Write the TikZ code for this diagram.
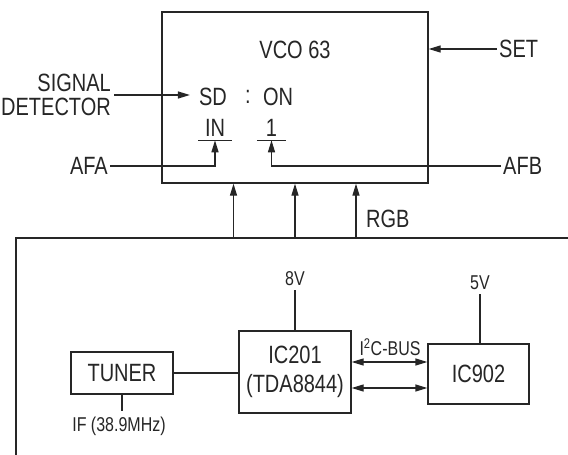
\documentclass[tikz,border=0pt]{standalone}
\usepackage{fontspec}
\setmainfont{Liberation Sans}[FakeStretch=0.8]
\usepackage{tikz}
\usetikzlibrary{positioning,arrows.meta,calc}
\tikzset{
  tvblk/.style={draw=black!85, line width=1.3pt, inner sep=0pt, text=black!85, font=\tvBig},
  tvtxt/.style={inner sep=0pt, text=black!85, font=\tvBig},
  tvsmall/.style={inner sep=0pt, text=black!85, font=\tvSmall},
  tvbar/.style={tvtxt, inner ysep=3.5pt},
  tvwire/.style={draw=black!85, line width=1.3pt},
  tvsig/.style={tvwire, -{Triangle[length=12pt,width=7pt]}},
  tvbus/.style={tvwire, {Triangle[length=12pt,width=7pt]}-{Triangle[length=12pt,width=7pt]}},
}
\newcommand{\tvBig}{\fontsize{25}{29}\selectfont}
\newcommand{\tvSmall}{\fontsize{20}{23}\selectfont}

\begin{document}
\begin{tikzpicture}[x=1pt, y=-1pt]
  \useasboundingbox (0,0) rectangle (568,455);
  \node[tvblk, minimum width=266pt, minimum height=171pt] (vco) at (295,97.5) {};
  \node[tvtxt] (vconame) at (295,50) {VCO 63};
  \node[tvtxt] (sd) at (213,97) {SD};
  \node[tvtxt] (colon) at (248,97) {:};
  \node[tvtxt] (on) at (278,97) {ON};
  \node[tvbar, minimum width=33pt] (in) at (215,128) {IN};
  \node[tvbar, minimum width=29pt] (one) at (271.5,128) {1};
  \node[tvtxt, inner xsep=3pt, align=right, anchor=east] (sigdet) at (114,95) {SIGNAL\\[-5pt]DETECTOR};
  \node[tvtxt, inner xsep=2pt, anchor=west] (set) at (497,49) {SET};
  \node[tvtxt, inner xsep=2pt, anchor=east] (afa) at (110,166) {AFA};
  \node[tvtxt, inner xsep=2pt, anchor=west] (afb) at (501,166) {AFB};
  \node[tvtxt, anchor=west] (rgb) at (366,219) {RGB};
  \coordinate (rgbA) at (233.5,238);
  \coordinate (rgbB) at (295,238);
  \coordinate (rgbC) at (356,238);

  \draw[tvwire] (in.south west) -- (in.south east);
  \draw[tvwire] (one.south west) -- (one.south east);
  \draw[tvsig] (sigdet.east) -- ([xshift=-9pt]sigdet.east -| sd.west);
  \draw[tvsig] (set.west) -- (set.west -| vco.east);
  \draw[tvsig] (afa.east) -| (in.south);
  \draw[tvsig] (afb.west) -| (one.south);
  \draw[tvsig] (rgbA) -- (rgbA |- vco.south);
  \draw[tvsig] (rgbB) -- (rgbB |- vco.south);
  \draw[tvsig] (rgbC) -- (rgbC |- vco.south);
  \draw[tvwire] (568,238) -- (16,238) -- (16,455);

  \node[tvblk, minimum width=102pt, minimum height=42pt] (tuner) at (122,373) {TUNER};
  \node[tvblk, minimum width=112pt, minimum height=82pt, align=center] (ic201) at (295,372) {IC201\\(TDA8844)};
  \node[tvblk, minimum width=101pt, minimum height=60pt] (ic902) at (478.5,374) {IC902};
  \node[tvsmall, inner ysep=5pt] (iflab) at (119,426) {IF (38.9MHz)};
  \node[tvsmall, inner ysep=4pt] (v8) at (295,279) {8V};
  \node[tvsmall, inner ysep=4pt] (v5) at (480,283) {5V};
  \node[tvsmall] (i2c) at (390,347) {I\textsuperscript{2}C-BUS};

  \draw[tvwire] (tuner.east) -- (tuner.east -| ic201.west);
  \draw[tvwire] (tuner.south) -- (tuner.south |- iflab.north);
  \draw[tvwire] (v8.south) -- (ic201.north);
  \draw[tvwire] (v5.south) -- (v5.south |- ic902.north);
  \draw[tvbus] ([yshift=10pt]ic201.east) -- ([yshift=10pt]ic201.east -| ic902.west);
  \draw[tvbus] ([yshift=-16pt]ic201.east) -- ([yshift=-16pt]ic201.east -| ic902.west);
\end{tikzpicture}
\end{document}
